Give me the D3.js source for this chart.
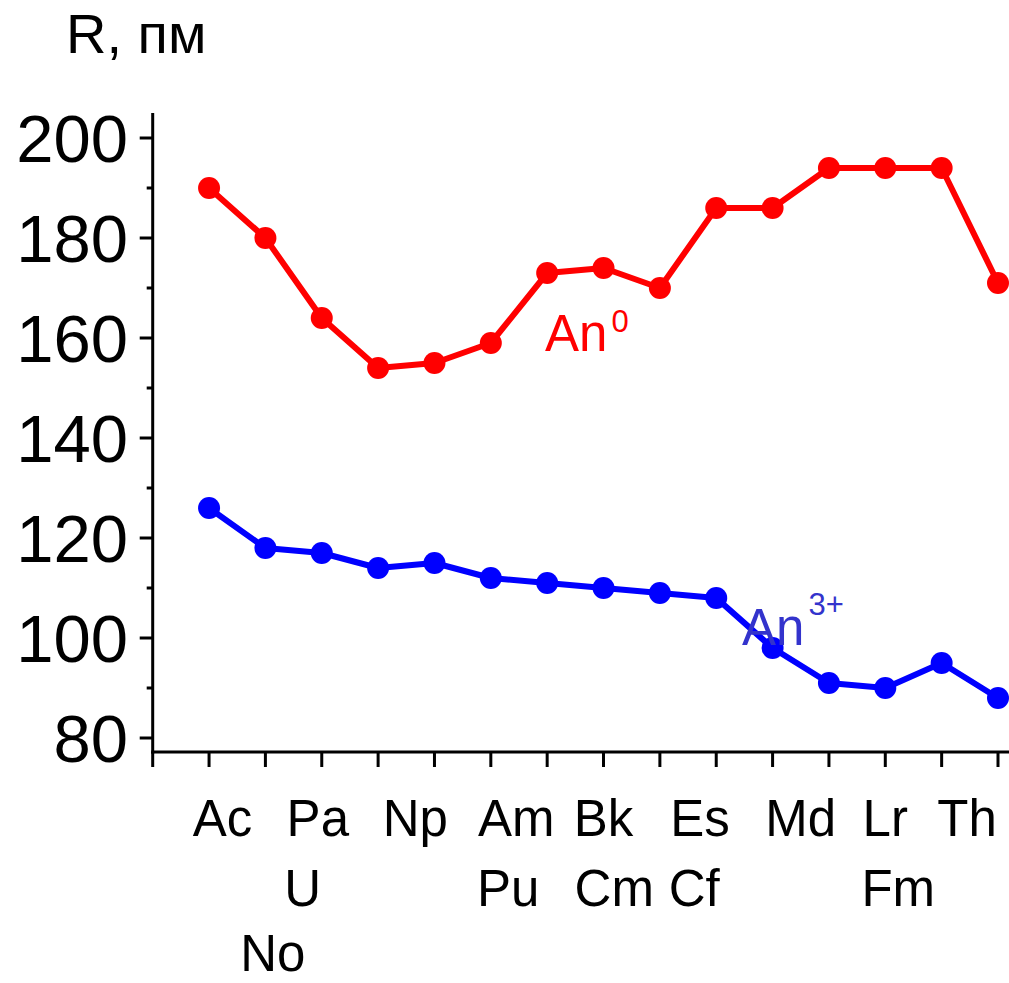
<!DOCTYPE html>
<html><head><meta charset="utf-8">
<script src="https://cdn.jsdelivr.net/npm/d3@7"></script>
<style>html,body{margin:0;padding:0;background:#fff;} svg{display:block;font-family:"Liberation Sans",Arial,sans-serif;}</style>
</head><body>
<script>
// Data
const elements = ["Ac","Th","Pa","U","Np","Pu","Am","Cm","Bk","Cf","Es","Fm","Md","No","Lr"];
const an0 = [190,180,164,154,155,159,173,174,170,186,186,194,194,194,171];
const an3 = [126,118,117,114,115,112,111,110,109,108,98,91,90,95,88];
const yTicks = [80,100,120,140,160,180,200];
const yMinorTicks = [90,110,130,150,170,190];
const labelRow1 = ["Ac","Pa","Np","Am","Bk","Es","Md","Lr","Th"];
const labelRow2 = ["U","Pu","Cm","Cf","Fm"];
const labelRow3 = ["No"];

// Layout (positions in category-index units for the stacked tick labels)
const row1Pos = [0.24,1.93,3.66,5.45,7.0,8.71,10.5,12.0,13.45];
const row2Pos = [1.66,5.31,7.19,8.61,12.23];
const row3Pos = [1.13];

const W = 1009, H = 983;
const svg = d3.select("body").append("svg").attr("width", W).attr("height", H);

const x = d3.scaleLinear().domain([-1, 14]).range([152.7, 998]);
const y = d3.scaleLinear().domain([80, 200]).range([738, 138]);
const xAxisY = 752, yAxisX = 152.7;
const xMax = 14.2, yTop = 205;

// axes lines
svg.append("line").attr("x1", yAxisX).attr("x2", yAxisX).attr("y1", y(yTop)).attr("y2", xAxisY + 1.5)
  .attr("stroke", "#000").attr("stroke-width", 3);
svg.append("line").attr("x1", yAxisX - 1.5).attr("x2", x(xMax)).attr("y1", xAxisY).attr("y2", xAxisY)
  .attr("stroke", "#000").attr("stroke-width", 3);

// y ticks
svg.selectAll(".ymaj").data(yTicks).enter().append("line")
  .attr("x1", yAxisX - 13).attr("x2", yAxisX).attr("y1", d => y(d)).attr("y2", d => y(d))
  .attr("stroke", "#000").attr("stroke-width", 3);
svg.selectAll(".ymin").data(yMinorTicks).enter().append("line")
  .attr("x1", yAxisX - 6).attr("x2", yAxisX).attr("y1", d => y(d)).attr("y2", d => y(d))
  .attr("stroke", "#000").attr("stroke-width", 3);
svg.selectAll(".ylab").data(yTicks).enter().append("text")
  .attr("x", 128).attr("y", d => y(d)).attr("dy", "0.36em").attr("text-anchor", "end")
  .attr("font-size", 67).attr("fill", "#000").text(d => d);

// x ticks
const xTickIdx = d3.range(-1, 15);
svg.selectAll(".xt").data(xTickIdx).enter().append("line")
  .attr("x1", d => x(d)).attr("x2", d => x(d)).attr("y1", xAxisY).attr("y2", xAxisY + 15)
  .attr("stroke", "#000").attr("stroke-width", 3);

// x labels
function row(labels, pos, baseline) {
  svg.selectAll(null).data(labels).enter().append("text")
    .attr("x", (d, i) => x(pos[i])).attr("y", baseline).attr("text-anchor", "middle")
    .attr("font-size", 51).attr("fill", "#000").text(d => d);
}
row(labelRow1, row1Pos, 836);
row(labelRow2, row2Pos, 906);
row(labelRow3, row3Pos, 971);

// title
svg.append("text").attr("x", 66).attr("y", 53).attr("font-size", 56).attr("fill", "#000").text("R, пм");

// series
function series(vals, color) {
  const line = d3.line().x((d, i) => x(i)).y(d => y(d));
  svg.append("path").datum(vals).attr("d", line).attr("fill", "none")
    .attr("stroke", color).attr("stroke-width", 6).attr("stroke-linejoin", "round");
  svg.selectAll(null).data(vals).enter().append("circle")
    .attr("cx", (d, i) => x(i)).attr("cy", d => y(d)).attr("r", 11).attr("fill", color);
}
series(an0, "#ff0000");
series(an3, "#0000ff");

// annotations
const t0 = svg.append("text").attr("x", 545).attr("y", 351).attr("font-size", 51).attr("fill", "#ff0000");
t0.append("tspan").text("An");
t0.append("tspan").attr("dx", 4).attr("dy", -19).attr("font-size", 31).text("0");
const t3 = svg.append("text").attr("x", 742).attr("y", 645).attr("font-size", 51).attr("fill", "#3333cc");
t3.append("tspan").text("An");
t3.append("tspan").attr("dx", 4).attr("dy", -30).attr("font-size", 31).text("3+");
</script>
</body></html>
